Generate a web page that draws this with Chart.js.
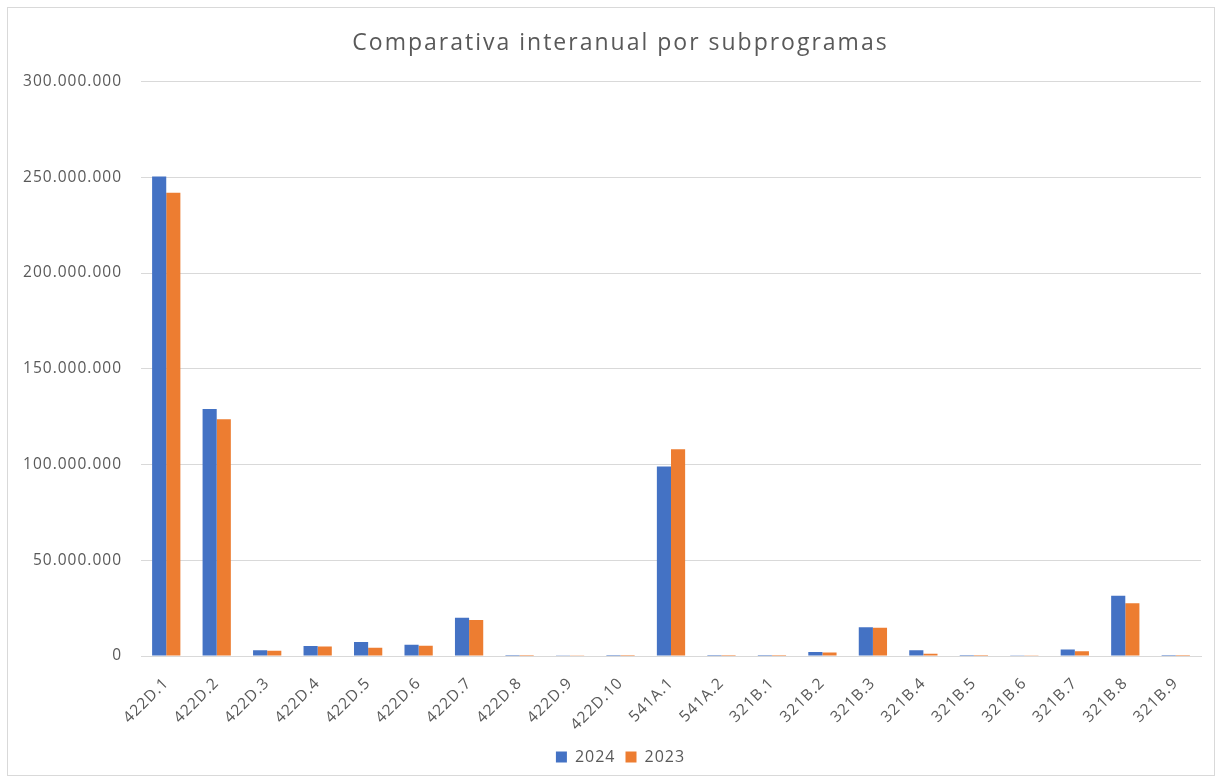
<!DOCTYPE html>
<html>
<head>
<meta charset="utf-8">
<script src="https://cdn.jsdelivr.net/npm/chart.js"></script>
<style>
  html, body { margin: 0; padding: 0; background: #fff; }
  #wrap { position: relative; width: 1221px; height: 782px; }
  #frame { position: absolute; left: 7px; top: 7px; width: 1206px; height: 767px; border: 1px solid #d9d9d9; pointer-events: none; }
</style>
</head>
<body>
<div id="wrap">
  <canvas id="chart" width="1221" height="782"></canvas>
  <div id="frame"></div>
</div>
<script>
/* Data */
const categories = ["422D.1", "422D.2", "422D.3", "422D.4", "422D.5", "422D.6", "422D.7", "422D.8", "422D.9", "422D.10",
  "541A.1", "541A.2", "321B.1", "321B.2", "321B.3", "321B.4", "321B.5", "321B.6", "321B.7", "321B.8", "321B.9"];
const values2024 = [250400000, 129000000, 3000000, 5200000, 7300000, 5900000, 20000000, 500000, 400000, 500000,
  99000000, 500000, 500000, 2100000, 15000000, 3000000, 500000, 400000, 3400000, 31500000, 500000];
const values2023 = [242000000, 123600000, 2800000, 5000000, 4300000, 5400000, 18800000, 500000, 400000, 500000,
  108000000, 500000, 500000, 1800000, 14800000, 1200000, 500000, 400000, 2500000, 27500000, 500000];
const yTicks = [0, 50000000, 100000000, 150000000, 200000000, 250000000, 300000000];

const textColor = "#595959";
const fontFamily = "'Open Sans', 'Noto Sans', sans-serif";

function fmt(v) {
  if (v === 0) return "0";
  return String(v).replace(/\B(?=(\d{3})+(?!\d))/g, ".");
}

// a bit of letter spacing, the original text is wider than Open Sans
const spacing = {
  id: "spacing",
  beforeLayout: function (chart) { chart.ctx.letterSpacing = "1px"; },
  afterLayout: function (chart) {
    // the title and legend sit a little right of the canvas centre
    [chart.titleBlock, chart.legend].forEach(function (b) {
      if (b) { b.left += 20; b.right += 20; }
    });
    const tb = chart.titleBlock;
    if (tb && !tb._wrapped) {
      const orig = tb.draw;
      tb.draw = function () {
        chart.ctx.letterSpacing = "2px";
        orig.apply(this, arguments);
        chart.ctx.letterSpacing = "1px";
      };
      tb._wrapped = true;
    }
  },
  beforeDraw: function (chart) { chart.ctx.letterSpacing = "1px"; }
};

new Chart(document.getElementById("chart"), {
  type: "bar",
  data: {
    labels: categories,
    datasets: [
      { label: "2024", data: values2024, backgroundColor: "#4472C4" },
      { label: "2023", data: values2023, backgroundColor: "#ED7D31" }
    ]
  },
  plugins: [spacing],
  options: {
    responsive: false,
    animation: false,
    layout: { padding: { left: 0, right: 20, top: 0, bottom: 7 } },
    datasets: { bar: { categoryPercentage: 0.56, barPercentage: 1.0 } },
    plugins: {
      title: {
        display: true,
        text: "Comparativa interanual por subprogramas",
        color: textColor,
        font: { family: fontFamily, size: 23, weight: "normal" },
        padding: { top: 30, bottom: 24 }
      },
      legend: {
        position: "bottom",
        labels: {
          color: textColor,
          font: { family: fontFamily, size: 16 },
          usePointStyle: true,
          pointStyle: "rect",
          boxWidth: 11,
          boxHeight: 11,
          padding: 10
        }
      },
      tooltip: { enabled: false }
    },
    scales: {
      x: {
        grid: { display: false },
        border: { display: true, color: "#d9d9d9" },
        ticks: {
          color: textColor,
          font: { family: fontFamily, size: 15.5 },
          minRotation: 45,
          maxRotation: 45,
          autoSkip: false,
          padding: 10
        },
        afterFit: function (scale) { scale.height = 83; }
      },
      y: {
        min: 0,
        max: 300000000,
        afterBuildTicks: function (scale) {
          scale.ticks = yTicks.map(function (v) { return { value: v }; });
        },
        grid: { color: "#d9d9d9", drawTicks: false },
        border: { display: false },
        ticks: {
          color: textColor,
          font: { family: fontFamily, size: 15.5 },
          padding: 19,
          callback: function (v) { return fmt(v); }
        },
        afterFit: function (scale) { scale.width = 141; }
      }
    }
  }
});
</script>
</body>
</html>
